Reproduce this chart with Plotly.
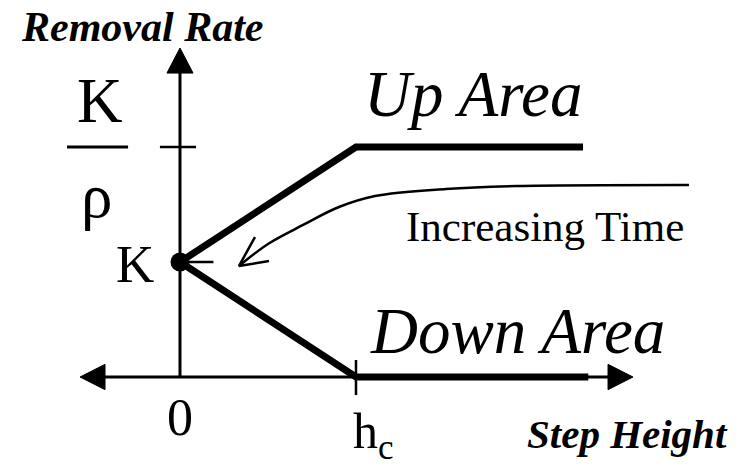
import plotly.graph_objects as go

# Model parameters (normalised units)
K = 1.0
rho = 0.5
h_c = 1.0

# Removal-rate branches versus step height
step_height_up = [0.0, h_c, 2.29]
rate_up = [K, K / rho, K / rho]
step_height_down = [0.0, h_c, 2.32]
rate_down = [K, 0.0, 0.0]

# Hand-drawn "increasing time" arrow path (step height, removal rate)
time_curve_h = [2.892, 1.915, 1.511, 1.108, 0.903, 0.699, 0.50, 0.335]
time_curve_r = [1.670, 1.661, 1.635, 1.574, 1.478, 1.322, 1.157, 0.965]

# Axis extents
x_axis_min, x_axis_max = -0.568, 2.574
y_axis_max = 2.861

FONT = "Liberation Serif"
BLACK = "#000000"

fig = go.Figure()


def seg(xs, ys, width, shape="linear"):
    fig.add_trace(go.Scatter(x=xs, y=ys, mode="lines", hoverinfo="skip",
                             line=dict(color=BLACK, width=width, shape=shape),
                             showlegend=False))


def tri(xs, ys):
    fig.add_trace(go.Scatter(x=xs, y=ys, mode="lines", fill="toself",
                             fillcolor=BLACK, hoverinfo="skip",
                             line=dict(color=BLACK, width=1), showlegend=False))


# Axes with arrowheads
head_len_x, head_half_x = 0.142, 0.11
head_len_y, head_half_y = 0.218, 0.074
seg([x_axis_min + head_len_x, x_axis_max - head_len_x], [0, 0], 3)
seg([0, 0], [0, y_axis_max - head_len_y], 3)
tri([x_axis_min, x_axis_min + head_len_x, x_axis_min + head_len_x, x_axis_min],
    [0, head_half_x, -head_half_x, 0])
tri([x_axis_max, x_axis_max - head_len_x, x_axis_max - head_len_x, x_axis_max],
    [0, head_half_x, -head_half_x, 0])
tri([0, head_half_y, -head_half_y, 0],
    [y_axis_max, y_axis_max - head_len_y, y_axis_max - head_len_y, y_axis_max])

# Tick marks at K, K/rho and h_c
seg([-0.114, 0.091], [K / rho, K / rho], 2.5)
seg([0, 0.19], [K, K], 2.5)
seg([h_c, h_c], [-0.157, 0.148], 2.5)

# Up / down branches
seg(step_height_up, rate_up, 7)
seg(step_height_down, rate_down, 7)

# Starting point
fig.add_trace(go.Scatter(x=[0], y=[K], mode="markers", hoverinfo="skip",
                         marker=dict(color=BLACK, size=19), showlegend=False))

# Increasing-time arrow
seg(time_curve_h, time_curve_r, 2.5, shape="spline")
tip_h, tip_r = time_curve_h[-1], time_curve_r[-1]
seg([0.426, tip_h, 0.506], [1.217, tip_r, 1.009], 2.5)


def label(text, x, y, size, weight="normal", style="normal",
          xanchor="center", yanchor="middle"):
    fig.add_annotation(x=x, y=y, text=text, showarrow=False, xanchor=xanchor,
                       yanchor=yanchor,
                       font=dict(family=FONT, size=size, color=BLACK,
                                 weight=weight, style=style))


label("Removal Rate", -0.216, 3.043, 42, weight="bold", style="italic")
label("Step Height", 2.543, -0.496, 41, weight="bold", style="italic")
label("Up Area", 1.662, 2.461, 65, style="italic")
label("Down Area", 1.920, 0.400, 65, style="italic")
label("Increasing Time", 2.074, 1.313, 43)
label("K", -0.457, 2.400, 63)
label("ρ", -0.472, 1.574, 63)
label("K", -0.256, 0.983, 53)
label("0", 0.0, -0.356, 52)
label("h<sub>c</sub>", 1.10, -0.504, 50)

# Fraction bar of K/rho
fig.add_shape(type="line", x0=-0.642, x1=-0.295, y0=K / rho, y1=K / rho,
              line=dict(color=BLACK, width=3))

fig.update_layout(
    width=738, height=466,
    margin=dict(l=0, r=0, t=0, b=0),
    paper_bgcolor="white", plot_bgcolor="white",
    xaxis=dict(range=[-1.0227, 3.1705], visible=False, fixedrange=True),
    yaxis=dict(range=[-0.7739, 3.2783], visible=False, fixedrange=True),
    showlegend=False,
)

fig.write_html("out.html")
